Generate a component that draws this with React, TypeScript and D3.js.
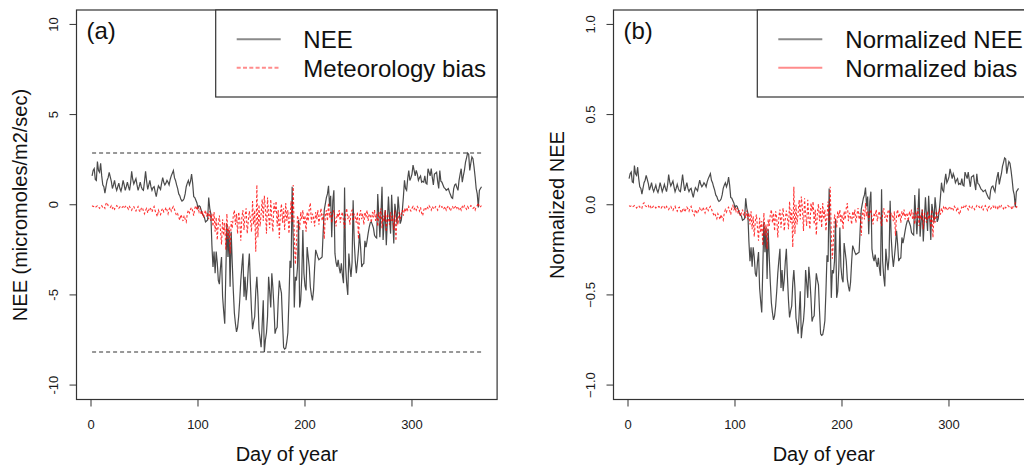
import React from "react";
import * as d3 from "d3";

const nee: number[] = [
  1.6, 1.9, 2.0, 1.4, 1.35, 2.4, 1.9, 1.8, 2.3, 1.6,
  1.1, 1.0, 0.65, 1.0, 1.35, 1.5, 1.8, 1.55, 1.3, 0.9,
  1.1, 1.35, 1.0, 0.8, 1.0, 1.2, 0.9, 0.75, 1.0, 1.35,
  1.1, 0.8, 1.0, 1.25, 1.0, 0.8, 1.2, 1.85, 1.4, 1.15,
  1.3, 1.45, 1.1, 0.8, 1.0, 1.25, 1.0, 0.85, 0.8, 1.3,
  1.85, 1.3, 0.85, 1.1, 1.35, 1.0, 0.8, 0.95, 1.0, 0.7,
  0.45, 0.8, 1.05, 0.95, 0.85, 1.2, 1.5, 1.25, 1.1, 1.2,
  1.35, 1.25, 1.1, 1.4, 1.6, 1.75, 1.9, 1.5, 1.35, 1.1,
  0.9, 0.6, 0.5, 0.3, 0.2, 0.25, 0.35, 0.6, 1.0, 1.2,
  1.35, 1.1, 1.3, 1.7, 1.2, 0.45, 0.4, 0.25, 0.1, -0.2,
  -0.05, -0.1, -0.3, -0.5, -0.6, -0.7, -0.95, -0.9, -0.85, 0.4,
  -0.2, -0.5, -2.25, -3.45, -2.6, -3.8, -2.6, -3.2, -4.2, -4.4,
  -3.5, -2.9, -5.1, -5.9, -6.6, -3.8, -1.05, -2.9, -1.4, -4.55,
  -1.5, -3.2, -4.75, -6.0, -6.6, -7.05, -6.8, -6.2, -5.3, -4.2,
  -3.4, -2.7, -5.1, -4.0, -5.3, -4.6, -3.5, -2.7, -4.4, -5.85,
  -6.9, -6.5, -6.2, -4.8, -4.0, -5.1, -6.95, -7.4, -7.9, -6.6,
  -5.3, -8.17, -7.5, -7.1, -6.2, -4.0, -4.8, -5.7, -3.8, -4.6,
  -5.7, -7.15, -6.9, -6.8, -5.3, -4.2, -4.6, -4.9, -6.5, -7.9,
  -8.0, -7.95, -7.6, -7.1, -5.3, -3.1, -3.5, 1.0, -2.0, -5.7,
  -4.0, -4.2, -3.45, -0.85, -5.7, -5.3, -4.0, -1.4, -3.8, -4.5,
  -4.75, -2.35, -2.9, -3.45, -4.55, -5.0, -5.3, -4.75, -3.5, -2.5,
  -2.7, -2.9, -3.05, -3.0, -2.95, -2.9, -1.5, -0.3, 0.05, 0.4,
  0.6, 1.05, -0.1, 0.5, -1.8, 0.2, 0.8, -2.7, -3.2, -3.45,
  -3.05, -3.5, -3.8, -3.25, -3.9, -4.35, 0.95, -3.45, -4.4, -5.0,
  -2.7, -3.45, -4.0, -3.2, 0.25, -2.0, -3.1, -3.8, -3.2, -2.5,
  -1.6, -2.4, -3.45, -3.3, -3.25, -2.0, -2.35, -2.0, -1.6, -1.25,
  -1.0, -0.95, -1.1, -1.3, -1.7, -1.8, -1.85, 0.6, -0.6, -1.8,
  -0.5, 1.0, -1.95, -1.0, -0.3, -2.25, -0.9, 0.45, -0.7, -1.6,
  0.55, -0.8, -2.15, 0.05, -0.4, -1.05, 0.45, -0.3, -1.05, -0.85,
  -0.3, 0.45, 1.35, 0.9, 0.8, 1.45, 1.9, 1.35, 1.5, 1.7,
  2.2, 1.9, 1.6, 1.9, 1.7, 1.35, 1.5, 1.6, 1.25, 1.3,
  1.25, 1.6, 1.2, 1.15, 2.0, 1.8, 1.6, 2.0, 1.5, 1.1,
  1.7, 1.75, 1.8, 1.3, 0.9, 1.9, 1.3, 1.25, 1.1, 0.95,
  0.9, 0.8, 0.85, 0.9, 0.7, 0.55, 0.4, 0.35, 0.9, 1.1,
  1.15, 0.95, 0.8, 1.35, 1.7, 2.0, 1.25, 1.6, 1.9, 2.35,
  2.6, 2.87, 2.8, 1.9, 2.3, 2.65, 2.55, 2.1, 1.55, 0.9,
  0.6, -0.15, 0.8, 0.9, 1.0,
];

const bias: number[] = [
  -0.05, -0.1, -0.08, -0.15, -0.1, -0.05, -0.12, -0.2, -0.1, -0.05,
  -0.15, -0.1, -0.2, 0.05, 0.12, -0.05, -0.1, -0.15, -0.05, -0.2,
  -0.1, -0.25, -0.15, -0.05, -0.1, -0.2, -0.12, -0.08, -0.15, -0.1,
  -0.2, -0.1, -0.05, -0.15, -0.25, -0.1, -0.2, -0.3, -0.15, -0.1,
  -0.25, -0.35, -0.2, -0.1, -0.3, -0.4, -0.2, -0.15, -0.35, -0.5,
  -0.3, -0.2, -0.45, -0.3, -0.15, -0.25, -0.4, -0.2, -0.1, -0.35,
  -0.5, -0.65, -0.3, -0.45, -0.55, -0.3, -0.2, -0.4, -0.35, -0.15,
  -0.3, -0.5, -0.25, -0.15, -0.35, -0.2, -0.1, -0.25, -0.45, -0.6,
  -0.5, -0.7, -0.85, -0.55, -0.7, -0.9, -0.6, -0.8, -0.95, -0.5,
  -0.3, -0.45, -0.25, -0.15, -0.35, -0.6, -0.2, -0.05, -0.3, -0.15,
  -0.4, -0.2, -0.55, -0.35, -0.7, -0.5, -0.3, -0.65, -0.45, -0.8,
  -0.35, -0.9, -0.5, -1.2, -0.4, -1.5, -0.7, -1.95, -1.0, -0.6,
  -1.4, -2.2, -0.8, -1.7, -1.0, -2.5, -0.5, -1.9, -1.2, -2.7,
  -0.9, -1.3, -0.6, -0.3, -1.1, -0.5, -1.6, -0.4, -0.8, -2.0,
  -0.7, -0.3, -1.4, -0.6, -0.2, -1.6, -0.9, -0.35, -0.8, -1.5,
  0.2, -1.1, -0.3, -2.6, 1.1, -1.8, 0.0, -1.2, -0.5, 0.3,
  -0.9, 0.5, -0.2, -1.6, 0.4, -0.6, -1.3, 0.3, -0.8, -1.5,
  0.1, -0.4, 0.2, -1.2, -0.3, -1.85, -0.5, 0.05, -1.0, -0.2,
  -1.4, 0.1, -0.9, -0.3, -1.6, -0.7, 0.2, -1.0, 1.1, -1.8,
  -3.3, -2.2, -0.6, -0.9, -1.4, -0.4, -0.8, -0.3, -1.1, -0.6,
  -1.5, -0.4, -0.9, -0.2, 0.1, -1.0, -0.5, -0.7, -1.2, -0.4,
  -0.8, -0.3, -1.1, -0.6, -0.2, -0.9, -0.5, -1.9, -0.6, -0.3,
  -0.9, 0.1, -0.7, -0.4, -1.0, -0.5, -0.3, -0.8, -1.2, -0.5,
  -0.7, -0.3, -1.0, -0.6, -0.4, -0.9, -1.3, -0.5, -0.2, -0.8,
  -0.6, -1.1, -0.4, -0.3, -0.9, -0.5, -0.7, -1.0, -0.4, -1.9,
  -0.6, -0.3, -0.8, -0.5, -1.1, -0.4, -0.7, -0.3, -0.9, -0.5,
  -0.6, -1.0, -0.4, -0.7, -0.3, -0.9, -0.5, -1.2, -0.4, -0.8,
  -0.2, -1.3, -0.6, -0.9, -0.3, -1.5, -0.5, -0.8, -1.1, -0.4,
  -0.9, -0.6, -1.4, -0.3, -2.0, -0.7, -1.1, -0.4, -0.8, -0.5,
  -0.3, -0.6, -0.2, -0.4, -0.15, -0.3, -0.1, -0.25, -0.35, -0.2,
  -0.1, -0.25, -0.15, -0.3, -0.1, -0.2, -0.35, -0.15, -0.45, -0.6,
  -0.3, -0.15, -0.25, -0.1, -0.2, -0.05, -0.15, -0.3, -0.1, -0.2,
  -0.25, -0.1, -0.15, -0.3, -0.2, -0.05, -0.15, -0.1, -0.25, -0.2,
  -0.1, -0.3, -0.15, -0.05, -0.2, -0.35, -0.15, -0.1, -0.25, -0.15,
  -0.05, -0.2, -0.1, -0.25, -0.15, -0.3, -0.1, -0.2, -0.05, -0.15,
  -0.25, -0.1, -0.2, -0.15, -0.05, -0.1, -0.2, -0.15, -0.3, -0.1,
  -0.05, 0.1, -0.15, -0.1, -0.05,
];

const xTicks = [0, 100, 200, 300];
const yTicksA = [-10, -5, 0, 5, 10];
const yTicksB = [-1, -0.5, 0, 0.5, 1];
const labelsA = ["NEE", "Meteorology bias"];
const labelsB = ["Normalized NEE", "Normalized bias"];

const FONT = "'Liberation Sans', Arial, Helvetica, sans-serif";

type PanelProps = {
  offset: number;
  neeVals: number[];
  biasVals: number[];
  yDomain: [number, number];
  yTicks: number[];
  tickFmt: (v: number) => string;
  ylab: string;
  tag: string;
  legend: string[];
  legendLeft: number;
  legendTextX: number;
  biasLegendSolid: boolean;
  refLines: boolean;
};

function Panel(p: PanelProps) {
  const days = d3.range(1, p.neeVals.length + 1);
  const x = d3.scaleLinear().domain([-13.56, 379.56]).range([76.5 + p.offset, 497.1 + p.offset]);
  const ext = (p.yDomain[1] - p.yDomain[0]) * 0.04;
  const y = d3.scaleLinear().domain([p.yDomain[0] - ext, p.yDomain[1] + ext]).range([399.5, 10]);
  const line = d3.line<number>().x((_, i) => x(days[i])).y((v) => y(v));
  const left = x.range()[0];
  const right = x.range()[1];
  const top = 10;
  const bottom = 399.5;
  const mx = d3.max(p.neeVals) as number;
  const mn = d3.min(p.neeVals) as number;
  const cx = (left + right) / 2;
  return (
    <g fontFamily={FONT}>
      {p.refLines &&
        [mx, mn].map((v, i) => (
          <line key={i} x1={x(1)} x2={x(days[days.length - 1])} y1={y(v)} y2={y(v)}
            stroke="#333" strokeWidth={1.1} strokeDasharray="4,3" />
        ))}
      <path d={line(p.neeVals) || ""} fill="none" stroke="#222" strokeWidth={1.2} strokeOpacity={0.82} />
      <path d={line(p.biasVals) || ""} fill="none" stroke="#ff0000" strokeWidth={1.1} strokeDasharray="2.5,2" strokeOpacity={0.8} />
      <rect x={left} y={top} width={right - left} height={bottom - top} fill="none" stroke="#333" strokeWidth={1.2} />
      {xTicks.map((t) => (
        <g key={t}>
          <line x1={x(t)} x2={x(t)} y1={bottom} y2={bottom + 7} stroke="#333" strokeWidth={1} />
          <text x={x(t)} y={429} fontSize={13} textAnchor="middle" fill="#1a1a1a">{t}</text>
        </g>
      ))}
      {p.yTicks.map((t) => (
        <g key={t}>
          <line x1={left - 7} x2={left} y1={y(t)} y2={y(t)} stroke="#333" strokeWidth={1} />
          <text transform={`translate(${58 + p.offset},${y(t)}) rotate(-90)`} fontSize={13} textAnchor="middle" fill="#1a1a1a">
            {p.tickFmt(t)}
          </text>
        </g>
      ))}
      <text x={cx} y={461} fontSize={20} textAnchor="middle" fill="#111">Day of year</text>
      <text transform={`translate(${26.5 + p.offset},${205}) rotate(-90)`} fontSize={20} textAnchor="middle" fill="#111">
        {p.ylab}
      </text>
      <text x={86.5 + p.offset} y={38.5} fontSize={24} fill="#111">{p.tag}</text>
      <rect x={p.legendLeft} y={top} width={right - p.legendLeft} height={87} fill="white" stroke="#333" strokeWidth={1.2} />
      <line x1={p.legendLeft + 21} x2={p.legendLeft + 65} y1={39.3} y2={39.3} stroke="#8a8a8a" strokeWidth={2} />
      <line x1={p.legendLeft + 21} x2={p.legendLeft + 65} y1={67.7} y2={67.7}
        stroke="#ff8c8c" strokeWidth={2} strokeDasharray={p.biasLegendSolid ? undefined : "4,2.3"} />
      <text x={p.legendTextX} y={48} fontSize={24} fill="#111">{p.legend[0]}</text>
      <text x={p.legendTextX} y={77} fontSize={24} fill="#111">{p.legend[1]}</text>
    </g>
  );
}

export default function App() {
  const span = (d3.max(nee) as number) - (d3.min(nee) as number);
  const neeN = nee.map((v) => v / span);
  const biasN = bias.map((v) => v / span);
  return (
    <svg width={1024} height={468} style={{ position: "absolute", left: 0, top: 0, background: "white" }}>
      <rect width={1024} height={468} fill="white" />
      <Panel offset={0} neeVals={nee} biasVals={bias} yDomain={[-10, 10]} yTicks={yTicksA}
        tickFmt={(v) => String(v)} ylab="NEE (micromoles/m2/sec)" tag="(a)" legend={labelsA}
        legendLeft={215.7} legendTextX={303.3} biasLegendSolid={false} refLines={true} />
      <Panel offset={537} neeVals={neeN} biasVals={biasN} yDomain={[-1, 1]} yTicks={yTicksB}
        tickFmt={(v) => d3.format(".1f")(v)} ylab="Normalized NEE" tag="(b)" legend={labelsB}
        legendLeft={757.3} legendTextX={845.3} biasLegendSolid={true} refLines={false} />
    </svg>
  );
}
